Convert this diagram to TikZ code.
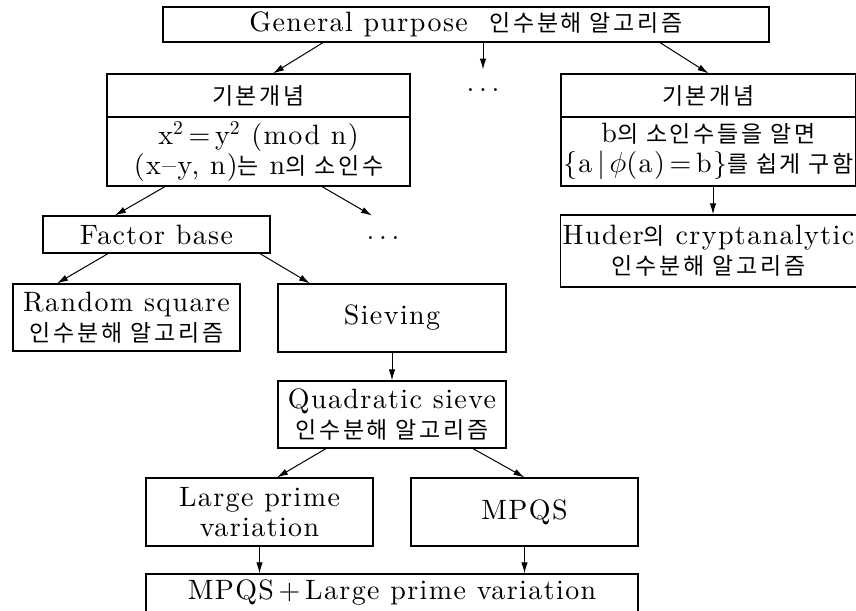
\documentclass[tikz,border=0pt]{standalone}
\usepackage{fontspec}
\setmainfont{lmroman10-regular.otf}[LetterSpace=5, BoldFont=lmroman10-bold.otf, ItalicFont=lmroman10-italic.otf]
\newfontfamily\krfont{Noto Sans CJK KR}[Scale=0.82, LetterSpace=12]
\newcommand{\kr}[1]{{\krfont #1}}
\usetikzlibrary{arrows.meta,calc}

\tikzset{
  box/.style={draw, line width=0.6pt, rectangle, align=center, inner sep=1pt},
  arr/.style={-{Latex[length=5.5pt,width=3.2pt]}, line width=0.5pt},
}

\begin{document}
\begin{tikzpicture}[x=0.5pt, y=-0.5pt, font=\fontsize{14}{15}\selectfont]
  \useasboundingbox (0,0) rectangle (856,610);

  % top level
  \node[box, minimum width=303pt, minimum height=17.5pt] (top) at (466,24.5) {General purpose~~\kr{인수분해 알고리즘}};

  % basic concepts, left and right
  \node[box, minimum width=151.5pt, minimum height=21.5pt] (clh) at (258.5,95.5) {\kr{기본개념}};
  \node[box, minimum width=151.5pt, minimum height=34.5pt] (clb) at (258.5,151.5) {x\textsuperscript{2}\,=\,y\textsuperscript{2} (mod n)\\(x--y, n)\kr{는} n\kr{의 소인수}};
  \node[minimum height=20pt] (dots1) at (483,90) {.\,.\,.};
  \node[box, minimum width=147.5pt, minimum height=21.5pt] (crh) at (708.5,95.5) {\kr{기본개념}};
  \node[box, minimum width=147.5pt, minimum height=34.5pt] (crb) at (708.5,151.5) {b\kr{의 소인수들을 알면}\\\{a\,$|$\,$\phi$(a)\,=\,b\}\kr{를 쉽게 구함}};
  \node[box, minimum width=147.5pt, minimum height=36pt] (hud) at (708.5,251) {Huder\kr{의} cryptanalytic\\\kr{인수분해 알고리즘}};

  % factor base branch
  \node[box, minimum width=113.5pt, minimum height=18.5pt] (fb) at (156.5,234.5) {Factor base};
  \node[minimum height=22pt] (dots2) at (383,238) {.\,.\,.};
  \node[box, minimum width=113.5pt, minimum height=33.5pt] (rs) at (126.5,317.5) {Random square\\\kr{인수분해 알고리즘}};
  \node[box, minimum width=114pt, minimum height=34pt] (sv) at (392,318) {Sieving};
  \node[box, minimum width=114pt, minimum height=33.5pt] (qs) at (392,414.5) {Quadratic sieve\\\kr{인수분해 알고리즘}};
  \node[box, minimum width=113.5pt, minimum height=34pt] (lp) at (259.5,512) {Large prime\\variation};
  \node[box, minimum width=113.5pt, minimum height=34pt] (mp) at (524.5,512) {MPQS};
  \node[box, minimum width=246pt, minimum height=19pt] (bot) at (392,593) {MPQS\,+\,Large prime variation};

  % connectors
  \draw[arr] ([xshift=-71.5pt]top.south) -- ([xshift=7.25pt]clh.north);
  \draw[arr] (top.south -| dots1.north) -- (dots1.north);
  \draw[arr] ([xshift=97pt]top.south) -- (crh.north);
  \draw[arr] ([xshift=-46.75pt]clb.south) -- ([xshift=-20.75pt]fb.north);
  \draw[arr] ([xshift=31.75pt]clb.south) -- ([xshift=-5.5pt]dots2.north);
  \draw[arr] ([xshift=2.25pt]crb.south) -- ([xshift=2.25pt]hud.north);
  \draw[arr] ([xshift=-24.25pt]fb.south) -- ([xshift=-34.75pt]rs.north);
  \draw[arr] ([xshift=51.75pt]fb.south) -- ([xshift=-41pt]sv.north);
  \draw[arr] (sv.south) -- (qs.north);
  \draw[arr] ([xshift=-33pt]qs.south) -- ([xshift=8.75pt]lp.north);
  \draw[arr] ([xshift=40.5pt]qs.south) -- (mp.north);
  \draw[arr] (lp.south) -- (lp.south |- bot.north);
  \draw[arr] (mp.south) -- (mp.south |- bot.north);
\end{tikzpicture}
\end{document}
